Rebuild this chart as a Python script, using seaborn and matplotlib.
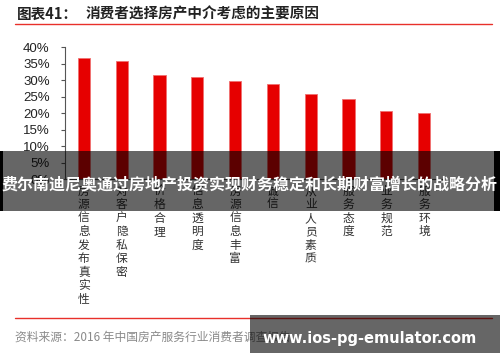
import matplotlib
matplotlib.use("Agg")
import matplotlib.pyplot as plt
import seaborn as sns
import pandas as pd
from matplotlib.patches import Rectangle
from matplotlib.lines import Line2D

categories = ["房源信息发布真实性", "对客户隐私保密", "价格合理", "信息透明度", "房源信息丰富",
              "诚信", "从业人员素质", "服务态度", "业务规范", "服务环境"]
values = [36.7, 35.8, 31.6, 30.9, 29.9, 28.8, 25.8, 24.3, 20.6, 20.0]
yticks = [0, 5, 10, 15, 20, 25, 30, 35, 40]
title_prefix = "图表41："
title_main = "消费者选择房产中介考虑的主要原因"
source_text = "资料来源：2016 年中国房产服务行业消费者调查报告"
banner_text = "费尔南迪尼奥通过房地产投资实现财务稳定和长期财富增长的战略分析"
watermark_text = "www.ios-pg-emulator.com"

sns.set_theme(style="white")
plt.rcParams['font.family'] = ['Noto Sans CJK SC', 'DejaVu Sans']

W, H = 500, 362
fig = plt.figure(figsize=(5.0, 3.62), dpi=100)
ax = fig.add_axes([65 / W, 1 - 179.2 / H, (443 - 65) / W, (179.2 - 47.3) / H])

df = pd.DataFrame({"cat": categories, "val": values})
sns.barplot(data=df, x="cat", y="val", color="#E60000", width=0.32,
            edgecolor="#F07070", linewidth=0.6, saturation=1, ax=ax)
ax.set_xlim(-0.5, len(categories) - 0.5)
ax.set_ylim(0, 40)
ax.set_yticks(yticks)
ax.set_yticklabels([f"{v}%" for v in yticks], family="Liberation Sans", fontsize=9.5, color="#222222")
ax.set_xticks(range(len(categories)))
ax.set_xticklabels(["\n".join(c) for c in categories], rotation=0, va="top",
                   fontsize=8.5, color="#333333", linespacing=1.05)
ax.set_xlabel("")
ax.set_ylabel("")
for s in ["top", "right"]:
    ax.spines[s].set_visible(False)
for s in ["left", "bottom"]:
    ax.spines[s].set_color("#555555")
    ax.spines[s].set_linewidth(0.8)
ax.tick_params(axis="y", direction="out", length=3, width=0.8, color="#555555", pad=8, left=True)
ax.tick_params(axis="x", length=0, pad=4)

# header
fig.text(17 / W, 1 - 14 / H, title_prefix, fontsize=10.5, fontweight="bold", color="#222222",
         va="center", ha="left")
fig.text(86 / W, 1 - 14 / H, title_main, fontsize=10.5, fontweight="bold", color="#222222",
         va="center", ha="left")
fig.add_artist(Line2D([15 / W, 492 / W], [1 - 24 / H, 1 - 24 / H], color="#E8302A", lw=1.0))

# footer
fig.add_artist(Line2D([15 / W, 492 / W], [1 - 318 / H, 1 - 318 / H], color="#E8302A", lw=1.0))
fig.text(15 / W, 1 - 337 / H, source_text, fontsize=8.5, color="#8a8a8a", va="center", ha="left")

# overlay banner
fig.add_artist(Rectangle((0, 1 - 211 / H), 1, 60 / H, transform=fig.transFigure,
                         facecolor="black", alpha=0.6, edgecolor="none", zorder=10))
fig.add_artist(Rectangle((0, 1 - 211 / H), 3 / W, 60 / H, transform=fig.transFigure,
                         facecolor="black", edgecolor="none", zorder=11))
fig.add_artist(Rectangle((494 / W, 1 - 211 / H), 6 / W, 60 / H, transform=fig.transFigure,
                         facecolor="black", edgecolor="none", zorder=11))
fig.text(0.5, 1 - 184 / H, banner_text, fontsize=11.5, fontweight="bold", color="white",
         va="center", ha="center", zorder=12)

# watermark box
fig.add_artist(Rectangle((250 / W, 1 - 353 / H), 250 / W, 38 / H, transform=fig.transFigure,
                         facecolor="black", alpha=0.6, edgecolor="none", zorder=10))
fig.text(370 / W, 1 - 338 / H, watermark_text, fontsize=10.5, fontweight="bold", color="white",
         family="DejaVu Sans", va="center", ha="center", zorder=12)

fig.savefig("out.png", dpi=100)
